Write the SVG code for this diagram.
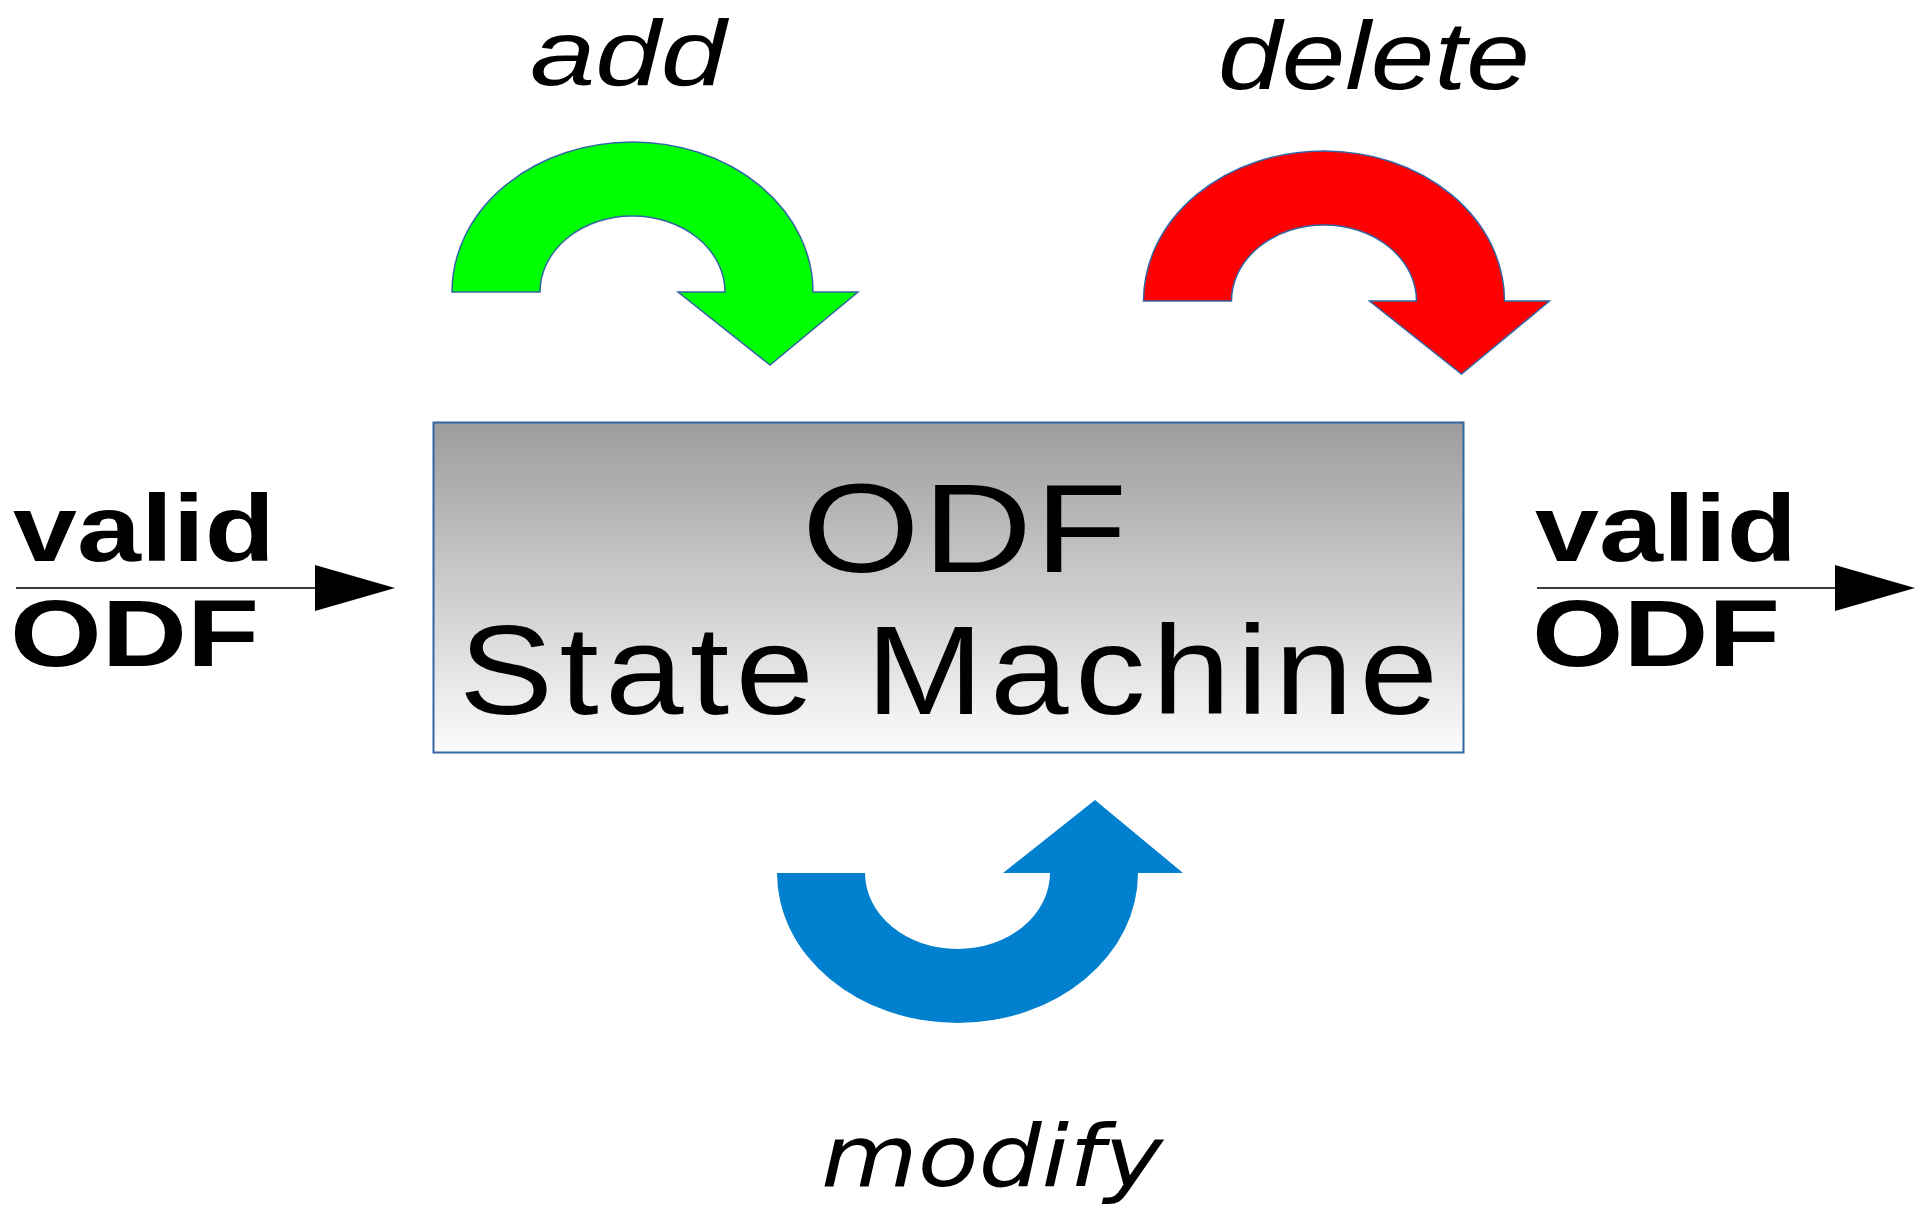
<svg xmlns="http://www.w3.org/2000/svg" xmlns:xlink="http://www.w3.org/1999/xlink" width="1923" height="1208" viewBox="0 0 1923 1208">
  <style>
    .sans { font-family: "Liberation Sans", Arial, sans-serif; fill: #000; }
    .bold { font-weight: bold; font-size: 94px; }
    .ital { font-style: italic; font-size: 97px; }
    .big { font-size: 126px; }
    .flow { stroke: #3a3a3a; stroke-width: 2; fill: none; }
    .curl { stroke: #3465a4; stroke-width: 1.5; }
  </style>
  <defs>
    <linearGradient id="boxGrad" x1="0" y1="0" x2="0" y2="1">
      <stop offset="0" stop-color="#9c9c9c"/>
      <stop offset="1" stop-color="#fcfcfc"/>
    </linearGradient>
    <marker id="head" viewBox="0 0 80 46" refX="0" refY="23" markerWidth="80" markerHeight="46" markerUnits="userSpaceOnUse" orient="auto">
      <path d="M0,0 L80,23 L0,46 Z" fill="#000"/>
    </marker>
    <path id="curl" d="M -180.5,0 A 180.5,150 0 0 1 180.5,0 L 225.5,0 L 137.5,73 L 45.5,0 L 92.5,0 A 92.5,76 0 0 0 -92.5,0 Z"/>
  </defs>

  <rect width="1923" height="1208" fill="#ffffff"/>

  <g id="state-machine">
    <rect x="433.5" y="422.5" width="1030" height="330" fill="url(#boxGrad)" stroke="#3465a4" stroke-width="2"/>
    <text class="sans big" transform="translate(802,572) scale(1.2,1)" x="0" y="0" textLength="271" lengthAdjust="spacing">ODF</text>
    <text class="sans big" transform="translate(459,714) scale(1.12,1)" x="0" y="0" textLength="874" lengthAdjust="spacing">State Machine</text>
  </g>

  <g id="add">
    <use xlink:href="#curl" href="#curl" transform="translate(632.5,292)" fill="#00ff00" class="curl"/>
    <text class="sans ital" x="530" y="85" style="font-size:93px" textLength="196" lengthAdjust="spacingAndGlyphs">add</text>
  </g>

  <g id="delete">
    <use xlink:href="#curl" href="#curl" transform="translate(1324,301)" fill="#ff0000" class="curl"/>
    <text class="sans ital" x="1218" y="89" textLength="312" lengthAdjust="spacingAndGlyphs">delete</text>
  </g>

  <g id="modify">
    <use xlink:href="#curl" href="#curl" transform="translate(957.5,873) scale(1,-1)" fill="#0080cf"/>
    <text x="821" y="1186" font-family="'DejaVu Sans', sans-serif" font-style="italic" font-size="86" textLength="342" lengthAdjust="spacingAndGlyphs">modify</text>
  </g>

  <g id="input-label">
    <text class="sans bold" x="13" y="561" textLength="262" lengthAdjust="spacingAndGlyphs">valid</text>
    <text class="sans bold" x="10" y="666" textLength="249" lengthAdjust="spacingAndGlyphs">ODF</text>
  </g>

  <g id="output-label">
    <text class="sans bold" x="1535" y="561" textLength="262" lengthAdjust="spacingAndGlyphs">valid</text>
    <text class="sans bold" x="1532" y="666" textLength="248" lengthAdjust="spacingAndGlyphs">ODF</text>
  </g>

  <g id="connectors">
    <line class="flow" x1="16" y1="588" x2="315" y2="588" marker-end="url(#head)"/>
    <line class="flow" x1="1537" y1="588" x2="1835" y2="588" marker-end="url(#head)"/>
  </g>
</svg>
